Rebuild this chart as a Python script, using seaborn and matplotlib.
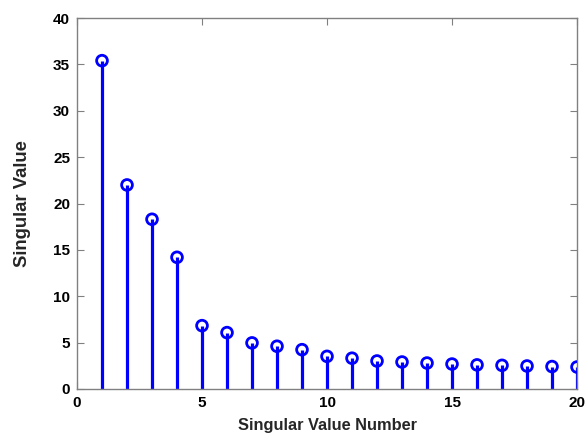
import matplotlib
matplotlib.use("Agg")
import matplotlib.pyplot as plt
import seaborn as sns
import pandas as pd

# Singular values of the matrix, in decreasing order
sv_number = list(range(1, 21))
sv_value = [35.4, 22.0, 18.3, 14.2, 6.83, 6.08, 4.97, 4.61, 4.24, 3.52,
            3.32, 3.02, 2.91, 2.80, 2.69, 2.60, 2.55, 2.48, 2.42, 2.37]

x_ticks = [0, 5, 10, 15, 20]
y_ticks = [0, 5, 10, 15, 20, 25, 30, 35, 40]

sns.set_style("white")
plt.rcParams["font.family"] = ["Liberation Sans", "DejaVu Sans"]
plt.rcParams["font.weight"] = "bold"

df = pd.DataFrame({"n": sv_number, "s": sv_value})

fig = plt.figure(figsize=(5.87, 4.36), dpi=100)
ax = fig.add_axes([0.1312, 0.1078, 0.8518, 0.8509])

# stems from the baseline up to each value
ax.vlines(df["n"], 0, df["s"], color="#0000ff", linewidth=2.3, zorder=2)
# open circle heads
sns.scatterplot(data=df, x="n", y="s", ax=ax, marker="o", s=60,
                facecolor="none", edgecolor="#0000ff", linewidth=2.0,
                zorder=3, legend=False)

ax.set_xlim(0, 20)
ax.set_ylim(0, 40)
ax.set_xticks(x_ticks)
ax.set_yticks(y_ticks)
ax.set_xticklabels([str(t) for t in x_ticks], fontsize=11, fontweight="bold")
ax.set_yticklabels([str(t) for t in y_ticks], fontsize=11, fontweight="bold")
ax.set_xlabel("Singular Value Number", fontsize=11.8, fontweight="bold", labelpad=5.5)
ax.set_ylabel("Singular Value", fontsize=13.3, fontweight="bold", labelpad=16)

for sp in ax.spines.values():
    sp.set_visible(True)
    sp.set_color("#808080")
    sp.set_linewidth(1.0)

ax.tick_params(axis="both", which="both", direction="in", length=5, width=0.8,
               color="#808080", top=True, right=True, bottom=True, left=True,
               pad=5, labelcolor="black")

fig.savefig("out.png", dpi=100, facecolor="white")
